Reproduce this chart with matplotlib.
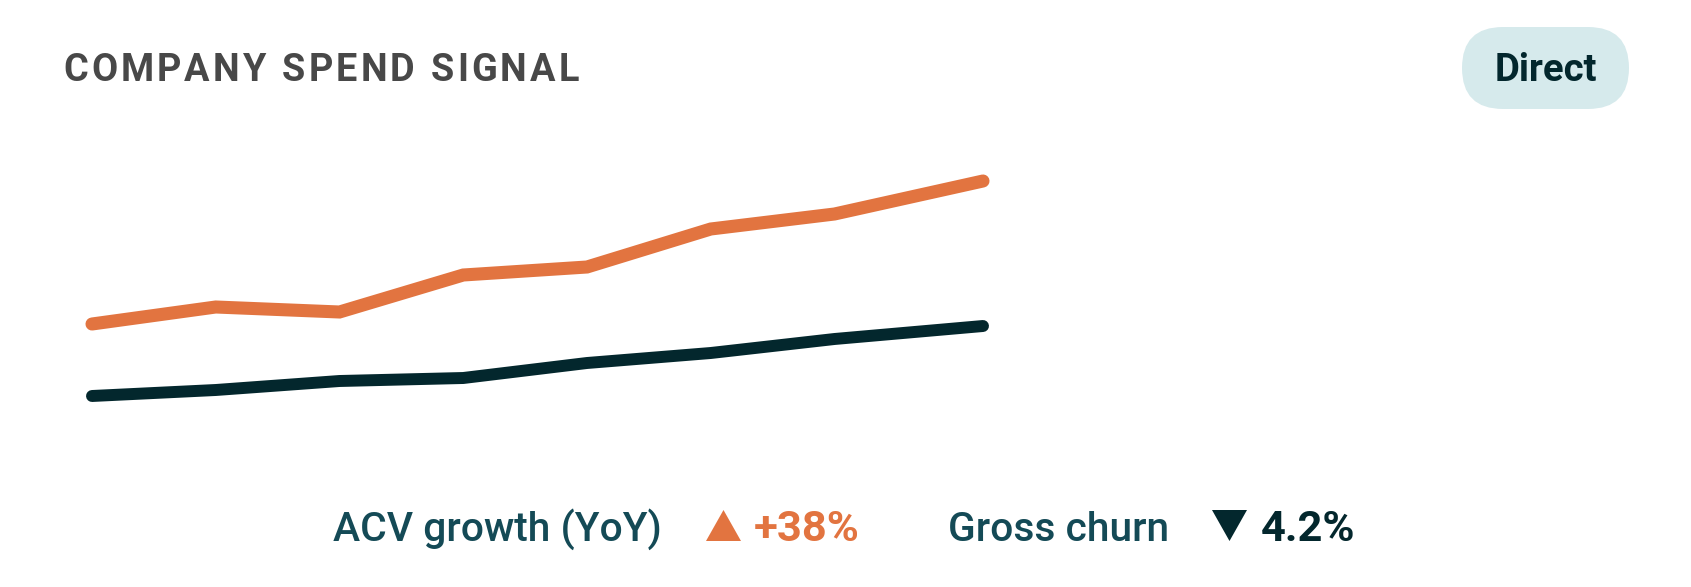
import matplotlib
matplotlib.use("Agg")
import matplotlib.pyplot as plt
from matplotlib import font_manager, patheffects
from matplotlib.patches import FancyBboxPatch, Polygon
from matplotlib.transforms import IdentityTransform

# ---- data ----
periods = [0, 1, 2, 3, 4, 5, 6, 7.2]
acv_index = [106, 123, 118, 155, 163, 201, 216, 249]
churn_index = [34, 40, 49, 52, 67, 77, 91, 104]
title = "COMPANY SPEND SIGNAL"
badge = "Direct"
legend_labels = ["ACV growth (YoY)", "Gross churn"]
legend_values = ["+38%", "4.2%"]

ORANGE = "#E27440"
DARK = "#03272D"
TEAL = "#144A56"
GREY = "#484848"
PILL = "#D6EAEC"

W, H = 1691, 587
fig = plt.figure(figsize=(W / 100, H / 100), dpi=100)
fig.patch.set_facecolor("white")
plt.rcParams["font.family"] = ["Roboto", "DejaVu Sans"]

has_medium = any(f.name == "Roboto" and f.weight in (500, "medium")
                 for f in font_manager.fontManager.ttflist)

def medium_kw(color, stroke=1.9):
    if has_medium:
        return dict(fontweight=500, color=color)
    return dict(fontweight="normal", color=color,
                path_effects=[patheffects.withStroke(linewidth=stroke, foreground=color)])

def fy(ytop):
    return H - ytop

# chart axes (pixel box: x 92..983, y 130..430 from top)
ax = fig.add_axes([92 / W, (H - 430) / H, (983 - 92) / W, 300 / H])
ax.set_xlim(0, 7.2)
ax.set_ylim(0, 300)
ax.axis("off")
ax.plot(periods, acv_index, color=ORANGE, lw=9.4, solid_capstyle="round",
        solid_joinstyle="miter", clip_on=False)
ax.plot(periods, churn_index, color=DARK, lw=8.6, solid_capstyle="round",
        solid_joinstyle="miter", clip_on=False)

idt = IdentityTransform()

# title with letter spacing
fig.canvas.draw()
renderer = fig.canvas.get_renderer()
tsize = 27.3
tkw = dict(fontsize=tsize, fontweight="bold")

def width_of(s):
    t = fig.text(0, 0, s, transform=idt, **tkw)
    w = t.get_window_extent(renderer).width
    t.remove()
    return w

space_w = width_of("a a") - width_of("aa")
widths = [space_w if ch == " " else width_of(ch) for ch in title]
total_target = 579 - 63
tracking = (total_target - sum(widths)) / (len(title) - 1)
x = 63
for ch, w in zip(title, widths):
    fig.text(x, fy(81), ch, color=GREY, transform=idt, va="baseline", ha="left", **tkw)
    x += w + tracking

# badge pill
pill = FancyBboxPatch((1462, fy(109)), 167, 82,
                      boxstyle="round,pad=0,rounding_size=41",
                      transform=idt, facecolor=PILL, edgecolor="none")
fig.patches.append(pill)
fig.text(1545.5, fy(81), badge, fontsize=27.5, fontweight="bold", color=DARK,
         transform=idt, ha="center", va="baseline")

# legend
lsize = 29.3
vsize = 31.3
base = fy(541)
fig.text(333, base, legend_labels[0], fontsize=lsize, transform=idt,
         va="baseline", **medium_kw(TEAL))
fig.patches.append(Polygon([[706, base], [741, base], [723.5, fy(510)]],
                           closed=True, transform=idt, facecolor=ORANGE, edgecolor="none"))
fig.text(754, base, legend_values[0], fontsize=vsize, fontweight="bold",
         color=ORANGE, transform=idt, va="baseline")
fig.text(948, base, legend_labels[1], fontsize=lsize, transform=idt,
         va="baseline", **medium_kw(TEAL))
fig.patches.append(Polygon([[1212, fy(510)], [1247, fy(510)], [1229.5, base]],
                           closed=True, transform=idt, facecolor=DARK, edgecolor="none"))
fig.text(1261, base, legend_values[1], fontsize=vsize, fontweight="bold",
         color=DARK, transform=idt, va="baseline")

fig.savefig("out.png", dpi=100, facecolor="white")
